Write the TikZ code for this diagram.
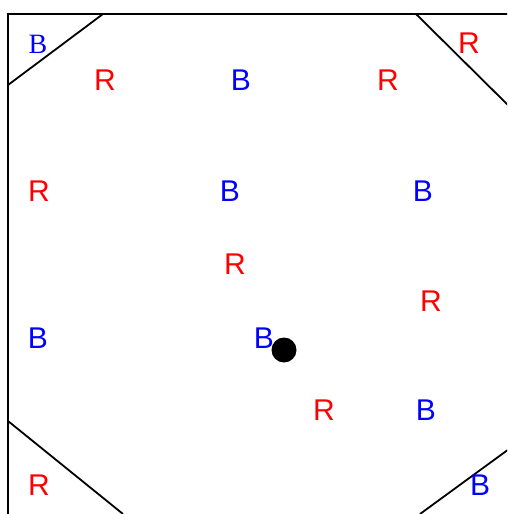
\documentclass[tikz,border=0pt]{standalone}
\usepackage{fontspec}
\setmainfont{Liberation Sans}
\newfontfamily\serifletter{Liberation Serif}
\usepackage{xcolor}
\usepackage{tikz}
\usetikzlibrary{positioning}
\tikzset{
    red mark/.style={text=red, inner sep=0pt, font=\fontsize{30}{30}\selectfont},
    blue mark/.style={text=blue, inner sep=0pt, font=\fontsize{30}{30}\selectfont},
    wall/.style={draw=black, line width=1.8pt}
}

\begin{document}
\begin{tikzpicture}[x=1pt, y=-1pt]
    \useasboundingbox (0,0) rectangle (507,514);
    \clip (0,0) rectangle (507,514);

    % frame and cut corners
    \draw[wall] (8,530) -- (8,14) -- (530,14);
    \draw[wall] (8,85) -- (103,14);
    \draw[wall] (416,14) -- (520,117);
    \draw[wall] (8,421) -- (123,514);
    \draw[wall] (420,514) -- (520,441);

    \node[text=blue, inner sep=0pt, font=\serifletter\fontsize{28}{28}\selectfont] (b0) at (38,44) {B};

    \node[red mark] (r1) at (105,80) {R};
    \node[blue mark] (b1) at (241,80) {B};
    \node[red mark] (r2) at (388,80) {R};
    \node[red mark] (r3) at (469,43) {R};

    \node[red mark] (r4) at (39,191) {R};
    \node[blue mark] (b2) at (230,191) {B};
    \node[blue mark] (b3) at (423,191) {B};

    \node[red mark] (r5) at (235,264) {R};
    \node[red mark] (r6) at (431,301) {R};

    \node[blue mark] (b4) at (38,338) {B};
    \node[blue mark] (b5) at (264,338) {B};
    \node[circle, fill=black, minimum size=25pt, inner sep=0pt] (dot) at (284,350) {};

    \node[red mark] (r7) at (324,410) {R};
    \node[blue mark] (b6) at (426,410) {B};

    \node[red mark] (r8) at (39,485) {R};
    \node[blue mark] (b7) at (480,485) {B};
\end{tikzpicture}
\end{document}
